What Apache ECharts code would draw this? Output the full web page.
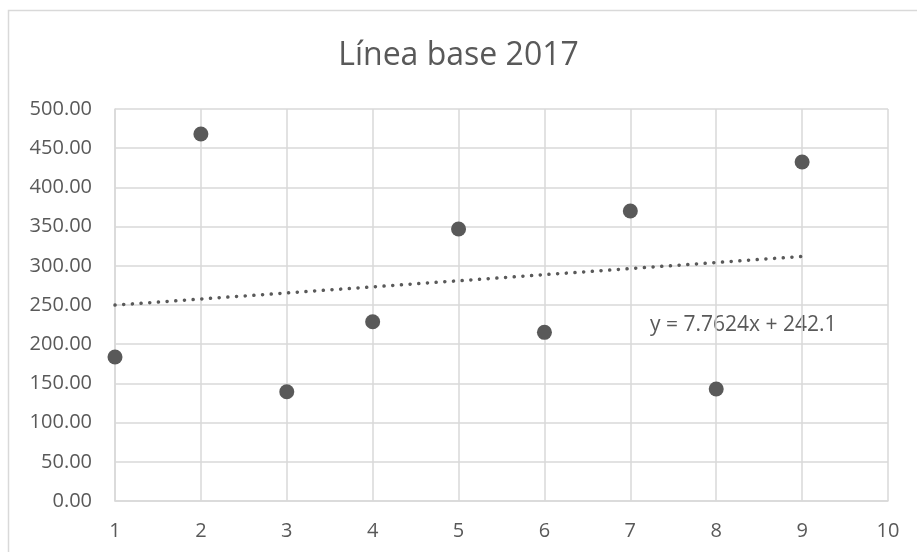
<!DOCTYPE html>
<html>
<head>
<meta charset="utf-8">
<title>Línea base 2017</title>
<script src="https://cdn.jsdelivr.net/npm/echarts@6/dist/echarts.min.js"></script>
<style>
    html, body { margin: 0; padding: 0; background: #fff; }
    #chart { width: 917px; height: 552px; }
</style>
</head>
<body>
<div id="chart"></div>
<script>
    // valores
    const periods = [1, 2, 3, 4, 5, 6, 7, 8, 9];
    const values = [183.7, 468.1, 139.4, 228.7, 346.9, 215.1, 369.9, 142.9, 432.4];

    // línea de tendencia (extremos)
    const trendX = [1, 9];
    const trendY = [249.86, 311.96];
    const trendLabel = 'y = 7.7624x + 242.1';

    const yTicks = [0, 50, 100, 150, 200, 250, 300, 350, 400, 450, 500];
    const xTicks = [1, 2, 3, 4, 5, 6, 7, 8, 9, 10];

    const textColor = '#595959';
    const gridColor = '#d9d9d9';
    const font = '"Open Sans", sans-serif';

    var chart = echarts.init(document.getElementById('chart'));

    option = {
        backgroundColor: '#fff',
        animation: false,
        title: {
            text: 'Línea base 2017',
            left: 'center',
            top: 35,
            textStyle: {
                color: textColor,
                fontFamily: font,
                fontSize: 32,
                fontWeight: 'normal'
            }
        },
        grid: {
            left: 115,
            right: 29,
            top: 109,
            bottom: 51
        },
        xAxis: {
            type: 'value',
            min: xTicks[0],
            max: xTicks[xTicks.length - 1],
            interval: 1,
            axisLine: { show: true, lineStyle: { color: gridColor, width: 1.5 } },
            axisTick: { show: false },
            splitLine: { show: true, lineStyle: { color: gridColor, width: 1.5 } },
            axisLabel: {
                color: textColor,
                fontFamily: font,
                fontSize: 20,
                margin: 20
            }
        },
        yAxis: {
            type: 'value',
            min: yTicks[0],
            max: yTicks[yTicks.length - 1],
            interval: 50,
            axisLine: { show: true, lineStyle: { color: gridColor, width: 1.5 } },
            axisTick: { show: false },
            splitLine: { show: true, lineStyle: { color: gridColor, width: 1.5 } },
            axisLabel: {
                color: textColor,
                fontFamily: font,
                fontSize: 20,
                margin: 23,
                formatter: function (v) { return v.toFixed(2); }
            }
        },
        graphic: [
            {
                type: 'rect',
                silent: true,
                shape: { x: 8.5, y: 10.5, width: 930, height: 560 },
                style: { fill: 'none', stroke: gridColor, lineWidth: 1.5 }
            },
            {
                type: 'text',
                silent: true,
                left: 650,
                top: 315,
                style: {
                    text: trendLabel,
                    fill: textColor,
                    font: '21px "Open Sans", sans-serif'
                }
            }
        ],
        series: [
            {
                name: 'Tendencia',
                type: 'line',
                data: trendX.map(function (x, i) { return [x, trendY[i]]; }),
                symbol: 'none',
                z: 1,
                lineStyle: {
                    color: textColor,
                    width: 3.5,
                    type: [0.1, 8.6],
                    cap: 'round'
                }
            },
            {
                name: 'Línea base 2017',
                type: 'scatter',
                data: periods.map(function (x, i) { return [x, values[i]]; }),
                symbol: 'circle',
                symbolSize: 15,
                z: 3,
                itemStyle: { color: textColor, opacity: 1 }
            }
        ]
    };

    chart.setOption(option);

    window.onresize = function () {
        chart.resize();
    }
</script>
</body>
</html>
